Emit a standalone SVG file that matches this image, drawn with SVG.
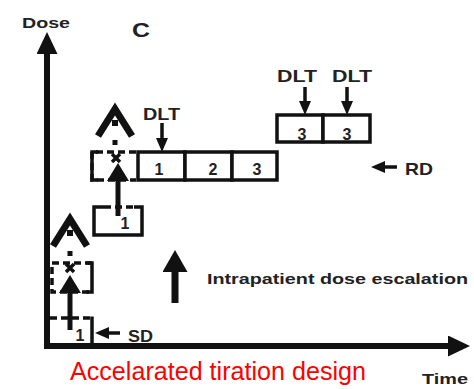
<svg xmlns="http://www.w3.org/2000/svg" width="474" height="389" viewBox="0 0 474 389">
<defs>
<style>
.ln{stroke:#111;fill:none;stroke-width:3.5}
.dash{stroke:#111;fill:none;stroke-width:3.5;stroke-dasharray:7 4}
.box{stroke:#111;fill:#fff;stroke-width:3.5}
.chev{stroke:#111;fill:none;stroke-width:7;stroke-linejoin:miter}
.t{font-family:"Liberation Sans",Arial,sans-serif;font-weight:bold;fill:#222}
.num{font-family:"Liberation Sans",Arial,sans-serif;font-weight:bold;fill:#222;font-size:16px;text-anchor:middle}
.red{font-family:"Liberation Sans",Arial,sans-serif;fill:#ff0000;font-size:25px}
</style>
<marker id="hs" markerUnits="userSpaceOnUse" viewBox="0 0 14 12" markerWidth="14" markerHeight="12" refX="0" refY="6" orient="auto"><path d="M0,0 L14,6 L0,12 Z" fill="#111"/></marker>
<marker id="hm" markerUnits="userSpaceOnUse" viewBox="0 0 18 22" markerWidth="18" markerHeight="22" refX="0" refY="11" orient="auto"><path d="M0,0 L18,11 L0,22 Z" fill="#111"/></marker>
<marker id="hb" markerUnits="userSpaceOnUse" viewBox="0 0 22 25" markerWidth="22" markerHeight="25" refX="0" refY="12.5" orient="auto"><path d="M0,0 L22,12.5 L0,25 Z" fill="#111"/></marker>
<marker id="ha" markerUnits="userSpaceOnUse" viewBox="0 0 22 21" markerWidth="22" markerHeight="21" refX="0" refY="10.5" orient="auto"><path d="M0,0 L22,10.5 L0,21 Z" fill="#111"/></marker>
</defs>
<rect width="474" height="389" fill="#fff"/>

<g id="axes">
<line x1="47" y1="349" x2="47" y2="54" stroke="#111" stroke-width="6" marker-end="url(#ha)"/>
<line x1="44" y1="346" x2="448" y2="346" stroke="#111" stroke-width="6" marker-end="url(#ha)"/>
<text class="t" x="22" y="28" font-size="15" textLength="48" lengthAdjust="spacingAndGlyphs">Dose</text>
<text class="t" x="422" y="384" font-size="14" textLength="46" lengthAdjust="spacingAndGlyphs">Time</text>
</g>

<g id="panel-label"><text class="t" x="132" y="37" font-size="21" textLength="18" lengthAdjust="spacingAndGlyphs">C</text></g>

<g id="box-start">
<line class="dash" x1="50" y1="318" x2="92" y2="318"/>
<line class="ln" x1="92" y1="316.5" x2="92" y2="344"/>
<text class="num" x="80" y="341">1</text>
</g>

<g id="box-level2-dashed">
<path class="dash" d="M92,263 H52 V292 H92"/>
<path class="ln" d="M86,263 H92 V292 H86"/>
<path class="ln" d="M66,264 L74,272 M74,264 L66,272" stroke-width="2.5"/>
<polyline class="chev" points="53,246 70,219 87,246"/>
<rect x="67" y="230" width="6" height="6" fill="#111"/>
<rect x="67.5" y="251" width="5" height="5" fill="#111"/>
</g>

<g id="box-level1">
<path class="ln" d="M104,207 H94 V235 H142 V207 H134"/>
<line class="dash" x1="104" y1="207" x2="134" y2="207"/>
<text class="num" x="125" y="229">1</text>
</g>

<g id="box-level2-row-dashed">
<path class="dash" d="M136,152 H92 V180 H136"/>
<path class="ln" d="M98,152 H92 V180 H98"/>
<path class="ln" d="M112,154 L120,162 M120,154 L112,162" stroke-width="2.5"/>
<polyline class="chev" points="98,136 115,109 132,136"/>
<rect x="112" y="120" width="6" height="6" fill="#111"/>
<rect x="112.5" y="140" width="5" height="5" fill="#111"/>
</g>

<g id="row-level">
<rect class="box" x="138" y="152" width="47" height="28"/>
<rect class="box" x="185" y="152" width="47" height="28"/>
<rect class="box" x="232" y="152" width="45" height="28"/>
<text class="num" x="159" y="175">1</text>
<text class="num" x="213" y="175">2</text>
<text class="num" x="257" y="175">3</text>
</g>

<g id="row-upper">
<rect class="box" x="277" y="115" width="46" height="27"/>
<rect class="box" x="323" y="115" width="47" height="27"/>
<text class="num" x="302" y="140">3</text>
<text class="num" x="347" y="140">3</text>
</g>

<g id="labels">
<text class="t" x="143" y="120" font-size="16" textLength="37" lengthAdjust="spacingAndGlyphs">DLT</text>
<text class="t" x="277" y="82" font-size="17" textLength="40" lengthAdjust="spacingAndGlyphs">DLT</text>
<text class="t" x="332" y="82" font-size="17" textLength="40" lengthAdjust="spacingAndGlyphs">DLT</text>
<text class="t" x="405" y="175" font-size="17" textLength="28" lengthAdjust="spacingAndGlyphs">RD</text>
<text class="t" x="128" y="342" font-size="16" textLength="25" lengthAdjust="spacingAndGlyphs">SD</text>
<text class="t" x="207" y="284" font-size="15" textLength="261" lengthAdjust="spacingAndGlyphs" fill="#333">Intrapatient dose escalation</text>
<text class="red" x="70" y="380" textLength="296" lengthAdjust="spacingAndGlyphs">Accelarated tiration design</text>
</g>

<g id="connectors">
<line x1="70" y1="330" x2="70" y2="293" stroke="#111" stroke-width="5" marker-end="url(#hm)"/>
<line x1="118" y1="216" x2="118" y2="181" stroke="#111" stroke-width="5" marker-end="url(#hm)"/>
<line x1="175" y1="303" x2="175" y2="272" stroke="#111" stroke-width="7" marker-end="url(#hb)"/>
<line x1="162" y1="123" x2="162" y2="138" stroke="#111" stroke-width="3.5" marker-end="url(#hs)"/>
<line x1="305" y1="87" x2="305" y2="101" stroke="#111" stroke-width="3.5" marker-end="url(#hs)"/>
<line x1="347" y1="87" x2="347" y2="101" stroke="#111" stroke-width="3.5" marker-end="url(#hs)"/>
<line x1="397" y1="167" x2="385" y2="167" stroke="#111" stroke-width="3.5" marker-end="url(#hs)"/>
<line x1="120" y1="333" x2="109" y2="333" stroke="#111" stroke-width="3.5" marker-end="url(#hs)"/>
</g>
</svg>
